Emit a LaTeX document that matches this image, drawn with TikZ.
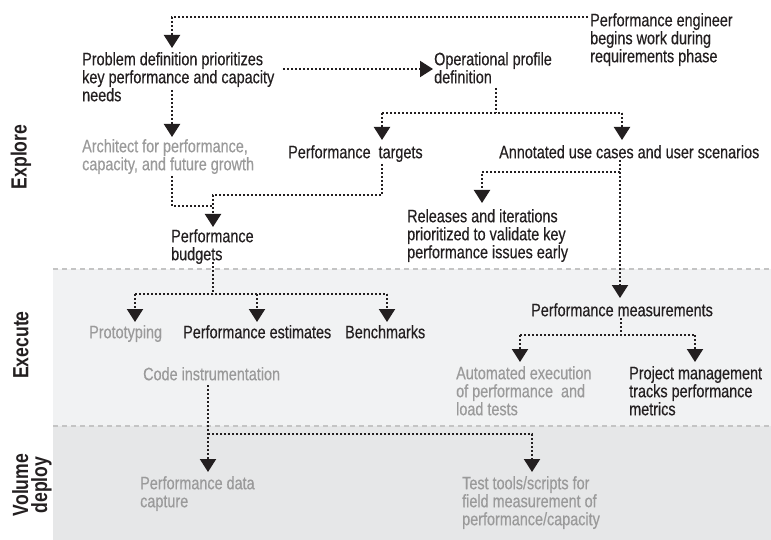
\documentclass[tikz,border=0pt]{standalone}
\usepackage{fontspec}
\setmainfont{Liberation Sans}[FakeStretch=0.8, UprightFeatures={FakeBold=0.4}]
\usetikzlibrary{arrows.meta}
\definecolor{txt}{HTML}{231F20}
\definecolor{gtxt}{HTML}{9A9A9A}
\definecolor{bandA}{HTML}{F1F2F3}
\definecolor{bandB}{HTML}{E6E7E8}
\definecolor{dashc}{HTML}{C4C4C4}
\begin{document}
\begin{tikzpicture}[x=1pt,y=-1pt,
  lbl/.style={anchor=north west, inner sep=0pt, align=left, font=\fontsize{18}{18}\selectfont, text=txt},
  glbl/.style={lbl, text=gtxt},
  flow/.style={draw=txt, line width=2pt, dash pattern=on 2pt off 2pt},
  arr/.style={flow, -{Triangle[width=16pt,length=13pt]}},
  phase/.style={rotate=90, inner sep=0pt, align=center, font=\fontsize{22}{19}\selectfont\bfseries, text=txt},
  sep/.style={draw=dashc, line width=1.5pt, dash pattern=on 5pt off 4pt}
]
\useasboundingbox (0,0) rectangle (771,540);
\fill[bandA] (53,269) rectangle (771,426);
\fill[bandB] (53,426) rectangle (771,540);
\draw[sep] (53,269) -- (771,269);
\draw[sep] (53,426) -- (771,426);

% phase labels
\node[phase] (explore) at (21,157) {Explore};
\node[phase] (execute) at (21,345) {Execute};
\node[phase] (volume) at (32,485) {Volume\\deploy};

% texts
\node[lbl] (eng) at (590,13) {Performance engineer\\begins work during\\requirements phase};
\node[lbl] (prob) at (82,52) {Problem definition prioritizes\\key performance and capacity\\needs};
\node[lbl] (oper) at (434,52) {Operational profile\\definition};
\node[glbl] (arch) at (82,139) {Architect for performance,\\capacity, and future growth};
\node[lbl] (targ) at (288,145) {Performance\ \ targets};
\node[lbl] (anno) at (499,145) {Annotated use cases and user scenarios};
\node[lbl] (budg) at (171,229) {Performance\\budgets};
\node[lbl] (rel) at (407,209) {Releases and iterations\\prioritized to validate key\\performance issues early};
\node[lbl] (meas) at (531,303) {Performance measurements};
\node[glbl] (proto) at (89,325) {Prototyping};
\node[lbl] (est) at (183,325) {Performance estimates};
\node[lbl] (bench) at (345,325) {Benchmarks};
\node[glbl] (code) at (143,367) {Code instrumentation};
\node[glbl] (auto) at (456,366) {Automated execution\\of performance\ \ and\\load tests};
\node[lbl] (proj) at (629,366) {Project management\\tracks performance\\metrics};
\node[glbl] (capt) at (140,476) {Performance data\\capture};
\node[glbl] (tools) at (462,476) {Test tools/scripts for\\field measurement of\\performance/capacity};

% junction coordinates
\coordinate (j1) at (588,17);
\coordinate (j1b) at (172,17);
\coordinate (j2a) at (283,69);
\coordinate (j2b) at (433,69);
\coordinate (j3a) at (172,90);
\coordinate (j3b) at (172,137);
\coordinate (j4a) at (172,176);
\coordinate (j4b) at (172,206);
\coordinate (j4c) at (213,206);
\coordinate (jb) at (213,227);
\coordinate (j5a) at (382,164);
\coordinate (j5b) at (382,195);
\coordinate (j5c) at (213,195);
\coordinate (j6a) at (496,88);
\coordinate (j6b) at (496,113);
\coordinate (j6l) at (382,113);
\coordinate (j6r) at (622,113);
\coordinate (j6lt) at (382,140);
\coordinate (j6rt) at (622,140);
\coordinate (j7a) at (620,160);
\coordinate (j7b) at (620,172);
\coordinate (j7c) at (482,172);
\coordinate (j7d) at (482,203);
\coordinate (j7e) at (620,298);
\coordinate (j8a) at (621,318);
\coordinate (j8b) at (621,335);
\coordinate (j8l) at (520,335);
\coordinate (j8r) at (695,335);
\coordinate (j8lt) at (520,362);
\coordinate (j8rt) at (695,362);
\coordinate (j9a) at (213,262);
\coordinate (j9b) at (213,294);
\coordinate (j9l) at (135,294);
\coordinate (j9m) at (257,294);
\coordinate (j9r) at (387,294);
\coordinate (j9lt) at (135,322);
\coordinate (j9mt) at (257,322);
\coordinate (j9rt) at (387,322);
\coordinate (j10a) at (208,385);
\coordinate (j10b) at (208,434);
\coordinate (j10c) at (532,434);
\coordinate (j10t) at (208,472);
\coordinate (j11t) at (532,472);

% connectors
\draw[arr] (j1) -- (j1b) -- (172,48);
\draw[arr] (j2a) -- (j2b);
\draw[arr] (j3a) -- (j3b);
\draw[flow] (j4a) -- (j4b) -- (j4c);
\draw[arr] (j5a) -- (j5b) -- (j5c) -- (jb);
\draw[flow] (j6a) -- (j6b);
\draw[flow] (j6l) -- (j6r);
\draw[arr] (j6l) -- (j6lt);
\draw[arr] (j6r) -- (j6rt);
\draw[arr] (j7a) -- (j7e);
\draw[arr] (j7b) -- (j7c) -- (j7d);
\draw[flow] (j8a) -- (j8b);
\draw[flow] (j8l) -- (j8r);
\draw[arr] (j8l) -- (j8lt);
\draw[arr] (j8r) -- (j8rt);
\draw[flow] (j9a) -- (j9b);
\draw[flow] (j9l) -- (j9r);
\draw[arr] (j9l) -- (j9lt);
\draw[arr] (j9m) -- (j9mt);
\draw[arr] (j9r) -- (j9rt);
\draw[arr] (j10a) -- (j10t);
\draw[arr] (j10b) -- (j10c) -- (j11t);
\end{tikzpicture}
\end{document}
